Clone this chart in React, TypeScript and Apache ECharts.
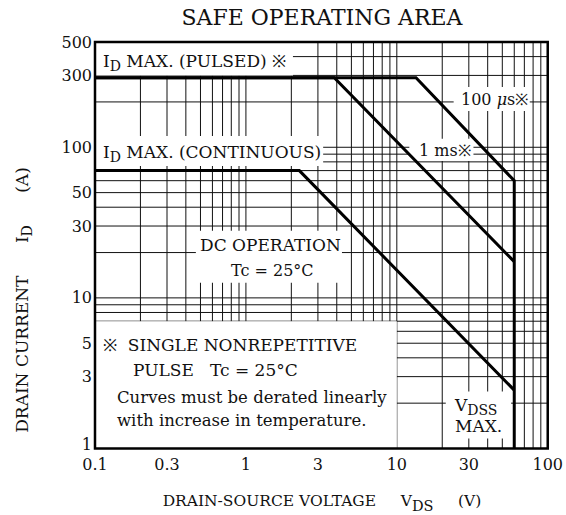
import React, { useEffect, useRef } from "react";
import * as echarts from "echarts";

// ---- axis ranges & labels ----
const X_MIN = 0.1;
const X_MAX = 100;
const Y_MIN = 1;
const Y_MAX = 500;
const xTickLabels = [0.1, 0.3, 1, 3, 10, 30, 100];
const yTickLabels = [1, 3, 5, 10, 30, 50, 100, 300, 500];
const gridMantissas = [1, 2, 3, 4, 5, 6, 7, 8, 9];
const xDecades = [0.1, 1, 10, 100];
const yDecades = [1, 10, 100];

// ---- curves (V in volts, I in amperes) ----
const pulse100usV = [0.1, 13.4, 60, 60];
const pulse100usI = [290, 290, 60, 1];
const pulse1msV = [0.1, 3.85, 60];
const pulse1msI = [290, 290, 17.4];
const dcV = [0.1, 2.26, 60];
const dcI = [70, 70, 2.44];

// ---- white label backgrounds in data space: [x1, y1, x2, y2] ----
const labelBoxes = [
  [0.1, 300, 2.05, 500],
  [0.1, 75, 3.25, 119],
  [23.8, 174, 76, 251],
  [12.1, 81, 32.2, 114],
  [0.466, 12.6, 4.33, 27.9],
  [0.1, 1, 10, 7],
  [21.1, 1.165, 57.2, 2.39],
];

const FONT = '"DejaVu Serif", "Liberation Serif", serif';
const INK = "#111";

function gridValues(decades: number[], max: number) {
  const out: number[] = [];
  decades.forEach((d) =>
    gridMantissas.forEach((m) => {
      const v = Number((d * m).toPrecision(6));
      if (v <= max + 1e-9) out.push(v);
    })
  );
  return out;
}

function zip(a: number[], b: number[]) {
  return a.map((v, i) => [v, b[i]]);
}

function rich(size: number, subSize?: number) {
  return {
    n: { fontFamily: FONT, fontSize: size, lineHeight: size + 10, fill: INK },
    i: {
      fontFamily: FONT,
      fontSize: size,
      fontStyle: "italic",
      lineHeight: size + 10,
      fill: INK,
    },
    s: {
      fontFamily: FONT,
      fontSize: subSize ?? size - 3,
      padding: [9, 0, 0, 0],
      fill: INK,
    },
  };
}

function txt(x: number, y: number, text: string, size = 15, extra: any = {}) {
  return {
    type: "text",
    x,
    y,
    z: 20,
    silent: true,
    ...(extra.el || {}),
    style: {
      text,
      fill: INK,
      fontFamily: FONT,
      fontSize: size,
      align: "left",
      verticalAlign: "middle",
      rich: rich(size, extra.subSize),
      ...(extra.style || {}),
    },
  };
}

export default function App() {
  const ref = useRef<HTMLDivElement>(null);

  useEffect(() => {
    document.body.style.margin = "0";
    if (!ref.current) return;
    const chart = echarts.init(ref.current, undefined, { renderer: "svg" });

    const xGrid = gridValues(xDecades, X_MAX);
    const yGrid = gridValues(yDecades, Y_MAX);

    const curveStyle = { color: "#000", width: 3, cap: "butt", join: "miter" };

    const option: any = {
      animation: false,
      backgroundColor: "#fff",
      grid: {
        left: 95,
        top: 42,
        width: 458,
        height: 406.5,
        show: true,
        borderColor: "#000",
        borderWidth: 2.5,
        backgroundColor: "transparent",
        z: 10,
      },
      xAxis: {
        type: "log",
        logBase: 10,
        min: X_MIN,
        max: X_MAX,
        axisLine: { show: false },
        axisTick: { show: false },
        splitLine: { show: false },
        axisLabel: {
          customValues: xTickLabels,
          formatter: (v: number) => String(v),
          fontFamily: FONT,
          fontSize: 16,
          lineHeight: 12,
          color: INK,
          margin: 10,
        },
      },
      yAxis: {
        type: "log",
        logBase: 10,
        min: Y_MIN,
        max: Y_MAX,
        axisLine: { show: false },
        axisTick: { show: false },
        splitLine: { show: false },
        axisLabel: {
          customValues: yTickLabels,
          formatter: (v: number) => (v === Y_MIN ? `{up|${v}}` : String(v)),
          fontFamily: FONT,
          fontSize: 16,
          lineHeight: 12,
          color: INK,
          margin: 3,
          rich: {
            up: {
              fontFamily: FONT,
              fontSize: 16,
              lineHeight: 12,
              color: INK,
              padding: [0, 0, 8, 0],
            },
          },
        },
      },
      series: [
        {
          type: "custom",
          name: "vgrid",
          z: 1,
          silent: true,
          data: xGrid.map((v) => [v, Y_MIN]),
          encode: { x: 0, y: 1 },
          renderItem: (_p: any, api: any) => {
            const v = api.value(0);
            const a = api.coord([v, Y_MIN]);
            const b = api.coord([v, Y_MAX]);
            return {
              type: "line",
              shape: { x1: a[0], y1: a[1], x2: b[0], y2: b[1] },
              style: { stroke: INK, lineWidth: 1 },
            };
          },
        },
        {
          type: "custom",
          name: "hgrid",
          z: 1,
          silent: true,
          data: yGrid.map((v) => [X_MIN, v]),
          encode: { x: 0, y: 1 },
          renderItem: (_p: any, api: any) => {
            const v = api.value(1);
            const a = api.coord([X_MIN, v]);
            const b = api.coord([X_MAX, v]);
            return {
              type: "line",
              shape: { x1: a[0], y1: a[1], x2: b[0], y2: b[1] },
              style: { stroke: INK, lineWidth: 1 },
            };
          },
        },
        {
          type: "custom",
          name: "boxes",
          z: 2,
          silent: true,
          data: labelBoxes,
          encode: { x: [0, 2], y: [1, 3] },
          renderItem: (_p: any, api: any) => {
            const a = api.coord([api.value(0), api.value(1)]);
            const b = api.coord([api.value(2), api.value(3)]);
            return {
              type: "rect",
              shape: {
                x: Math.min(a[0], b[0]),
                y: Math.min(a[1], b[1]),
                width: Math.abs(b[0] - a[0]),
                height: Math.abs(b[1] - a[1]),
              },
              style: { fill: "#fff" },
            };
          },
        },
        {
          type: "line",
          name: "100 µs",
          z: 3,
          symbol: "none",
          data: zip(pulse100usV, pulse100usI),
          lineStyle: curveStyle,
        },
        {
          type: "line",
          name: "1 ms",
          z: 3,
          symbol: "none",
          data: zip(pulse1msV, pulse1msI),
          lineStyle: curveStyle,
        },
        {
          type: "line",
          name: "DC",
          z: 3,
          symbol: "none",
          data: zip(dcV, dcI),
          lineStyle: curveStyle,
        },
      ],
      graphic: [
        txt(322, 17, "SAFE OPERATING AREA", 22, { style: { align: "center" } }),
        txt(103, 61, "{n|I}{s|D}{n| MAX. (PULSED) ※}", 17),
        txt(103, 152, "{n|I}{s|D}{n| MAX. (CONTINUOUS)}", 17),
        txt(461, 99, "{n|100 }{i|μ}{n|s※}", 16),
        txt(419, 150, "1 ms※", 16),
        txt(200, 245, "DC OPERATION", 17),
        txt(231, 270, "Tc = 25°C", 16),
        txt(103, 345, "※  SINGLE NONREPETITIVE", 17),
        txt(133, 370, "PULSE   Tc = 25°C", 17),
        txt(117, 397, "Curves must be derated linearly", 16.5),
        txt(117, 420, "with increase in temperature.", 16.5),
        txt(455, 405, "{n|V}{s|DSS}", 17),
        txt(455, 426, "MAX.", 17),
        txt(
          322,
          501,
          "{n|DRAIN-SOURCE VOLTAGE     V}{s|DS}{n|     (V)}",
          15.5,
          { style: { align: "center" }, subSize: 14.5 }
        ),
        txt(22, 300, "{n|DRAIN CURRENT      I}{s|D}{n|      (A)}", 17, {
          el: { rotation: Math.PI / 2 },
          style: { align: "center" },
        }),
      ],
    };

    chart.setOption(option);
    return () => chart.dispose();
  }, []);

  return <div ref={ref} style={{ width: 566, height: 515 }} />;
}
